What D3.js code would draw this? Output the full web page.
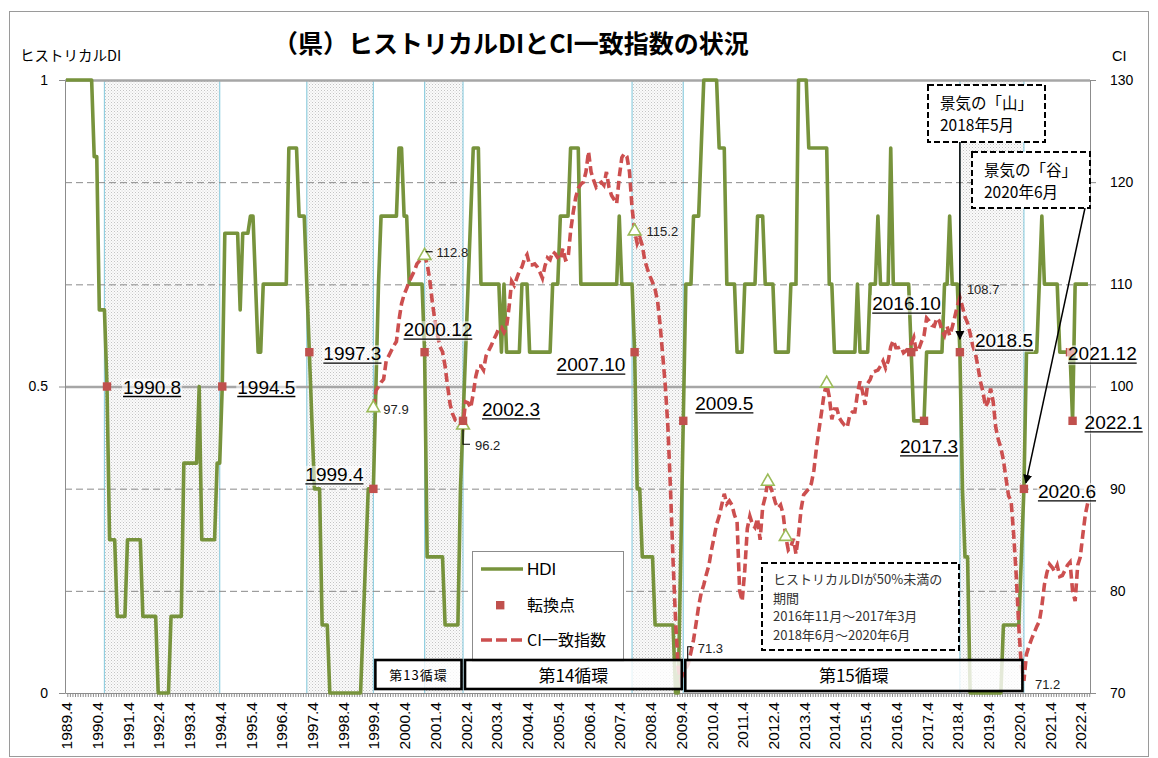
<!DOCTYPE html>
<html><head><meta charset="utf-8">
<script src="https://cdn.jsdelivr.net/npm/d3@7"></script>
<style>
body{margin:0;background:#fff}
svg{display:block}
text{font-family:"Liberation Sans",Arial,sans-serif}
.jp{font-family:"Noto Sans CJK JP","Noto Sans",sans-serif}
</style>
</head><body>
<svg id="c" width="1158" height="758"></svg>
<script>
// ---------------- DATA ----------------
const xTickLabels = ["1989.4","1990.4","1991.4","1992.4","1993.4","1994.4","1995.4","1996.4","1997.4","1998.4",
  "1999.4","2000.4","2001.4","2002.4","2003.4","2004.4","2005.4","2006.4","2007.4","2008.4","2009.4",
  "2010.4","2011.4","2012.4","2013.4","2014.4","2015.4","2016.4","2017.4","2018.4","2019.4","2020.4",
  "2021.4","2022.4"];
const leftTicks = [0, 0.5, 1];
const rightTicks = [70, 80, 90, 100, 110, 120, 130];

// Historical DI, monthly from 1989.4 (one row per fiscal year Apr-Mar)
const hdiStart = "1989.4";
const hdi = [
  1,1,1,1,1,1,1,1,1,1,1,0.875,
  0.875,0.625,0.625,0.625,0.5,0.25,0.25,0.25,0.125,0.125,0.125,0.125,
  0.25,0.25,0.25,0.25,0.25,0.25,0.125,0.125,0.125,0.125,0.125,0.125,
  0,0,0,0,0,0.125,0.125,0.125,0.125,0.125,0.375,0.375,
  0.375,0.375,0.375,0.375,0.5,0.25,0.25,0.25,0.25,0.25,0.25,0.375,
  0.375,0.5,0.75,0.75,0.75,0.75,0.75,0.75,0.625,0.75,0.75,0.75,
  0.778,0.778,0.667,0.556,0.556,0.667,0.667,0.667,0.667,0.667,0.667,0.667,
  0.667,0.667,0.667,0.889,0.889,0.889,0.889,0.778,0.778,0.778,0.667,0.556,
  0.444,0.333,0.333,0.333,0.111,0.111,0.111,0,0,0,0,0,
  0,0,0,0,0,0,0,0,0.111,0.222,0.333,0.333,
  0.333,0.5,0.667,0.778,0.778,0.778,0.778,0.778,0.778,0.778,0.889,0.889,
  0.778,0.778,0.667,0.667,0.667,0.667,0.667,0.667,0.556,0.222,0.222,0.222,
  0.222,0.222,0.222,0.222,0.111,0.111,0.111,0.111,0.111,0.111,0.333,0.444,
  0.556,0.667,0.778,0.889,0.889,0.889,0.667,0.667,0.667,0.667,0.667,0.667,
  0.667,0.667,0.556,0.667,0.556,0.556,0.556,0.556,0.556,0.556,0.667,0.667,
  0.667,0.556,0.556,0.556,0.556,0.556,0.556,0.556,0.556,0.556,0.667,0.667,
  0.667,0.778,0.778,0.778,0.778,0.889,0.889,0.889,0.889,0.667,0.667,0.667,
  0.667,0.667,0.667,0.667,0.667,0.667,0.667,0.667,0.667,0.667,0.667,0.667,
  0.778,0.667,0.667,0.667,0.667,0.667,0.556,0.333,0.333,0.222,0.222,0.222,
  0.222,0.222,0.111,0.111,0.111,0.111,0.111,0.111,0.111,0.111,0,0,
  0.222,0.444,0.667,0.667,0.667,0.778,0.778,0.778,0.889,1,1,1,
  1,1,1,0.889,0.889,0.889,0.667,0.667,0.667,0.667,0.556,0.556,
  0.556,0.667,0.667,0.667,0.667,0.667,0.778,0.778,0.778,0.667,0.667,0.667,
  0.667,0.556,0.556,0.556,0.556,0.556,0.556,0.667,0.667,0.667,1,1,
  1,1,0.889,0.889,0.889,0.889,0.889,0.889,0.889,0.889,0.667,0.667,
  0.556,0.556,0.556,0.556,0.556,0.556,0.556,0.556,0.556,0.667,0.556,0.556,
  0.556,0.556,0.667,0.667,0.667,0.778,0.667,0.667,0.667,0.667,0.889,0.667,
  0.667,0.667,0.667,0.667,0.667,0.667,0.556,0.444,0.444,0.444,0.444,0.444,
  0.556,0.556,0.556,0.556,0.556,0.556,0.556,0.667,0.667,0.778,0.667,0.667,
  0.667,0.556,0.333,0.222,0.222,0,0,0,0,0,0,0,
  0,0,0,0,0,0,0.111,0.111,0.111,0.111,0.111,0.111,
  0.111,0.222,0.333,0.556,0.556,0.556,0.556,0.556,0.667,0.778,0.667,0.667,
  0.667,0.667,0.667,0.667,0.556,0.556,0.556,0.556,0.556,0.444,0.667,0.667,
  0.667,0.667,0.667,0.667
];

// CI coincident index, monthly from 1999.4
const ciStart = "1999.4";
const ci = [
  97.9,99.6,100.0,100.4,100.7,102.5,103.0,103.5,104.0,104.4,106.5,108.1,
  109.0,109.6,110.3,110.8,111.3,112.0,112.3,112.6,112.8,112.0,110.5,108.3,
  106.5,105.1,103.9,103.4,102.0,100.0,98.2,97.3,96.7,96.6,96.7,96.2,
  98.5,98.4,97.9,99.3,101.0,102.0,102.0,101.6,103.0,103.5,104.0,104.6,
  105.1,105.7,105.8,105.3,105.8,107.8,110.3,109.9,110.6,111.3,111.7,112.5,
  112.9,111.9,111.9,112.0,111.7,111.2,110.6,111.8,112.6,112.4,113.2,113.0,
  112.6,112.4,113.5,112.4,112.5,115.2,117.0,118.5,119.4,119.8,120.0,121.0,
  123.0,121.0,120.2,119.5,119.8,120.0,119.7,121.0,119.5,118.7,118.3,117.9,
  120.5,122.4,122.8,122.5,121.0,117.5,115.2,114.0,114.6,113.8,112.3,111.5,
  110.8,110.2,109.5,108.3,105.9,103.0,100.0,96.0,90.0,83.0,77.0,72.5,
  71.3,72.0,72.4,72.9,74.0,75.2,76.8,78.5,79.8,80.6,81.6,82.5,
  84.0,85.2,86.5,87.3,88.4,89.5,88.5,88.8,88.4,87.4,86.8,80.0,
  79.0,82.0,86.1,87.3,86.5,86.2,87.1,85.0,88.2,89.2,90.7,90.2,
  89.5,88.6,88.1,88.4,87.5,85.3,84.0,84.3,85.1,83.6,85.5,88.0,
  89.4,89.7,90.0,90.5,91.8,94.0,95.8,97.5,99.3,100.3,99.0,96.8,
  97.8,97.8,96.9,96.5,96.2,96.0,97.2,97.5,97.5,99.3,100.5,99.5,
  98.2,100.3,100.7,101.4,101.5,101.6,102.0,102.5,101.8,102.5,103.9,104.5,
  103.8,103.8,103.9,103.3,103.5,103.8,104.2,104.8,103.4,103.7,104.4,105.0,
  106.7,106.4,106.0,105.9,106.7,106.4,105.5,105.0,105.9,105.0,105.8,106.8,
  107.9,108.7,107.8,106.8,106.2,105.2,104.0,103.3,102.0,100.5,99.5,98.0,
  98.5,99.8,98.5,96.0,94.8,94.0,92.8,91.0,89.3,88.8,85.5,81.5,
  76.5,72.5,71.2,73.8,74.6,75.3,75.9,76.5,77.0,78.5,80.6,81.8,
  82.6,82.3,81.9,82.5,81.4,81.5,82.0,82.5,82.8,80.0,79.0,82.5,
  83.3,85.5,87.5,88.7
];

// turning points of the historical DI
const turningPoints = ["1990.8","1994.5","1997.3","1999.4","2000.12","2002.3","2007.10","2009.5",
  "2016.10","2017.3","2018.5","2020.6","2021.12","2022.1"];
// shaded (downturn) periods
const shadeStart = ["1990.7","1997.2","2000.12","2007.9","2018.5"];
const shadeEnd   = ["1994.4","1999.4","2002.3","2009.5","2020.6"];
// CI triangle marks and labelled CI values
const ciMarks = ["1999.4","2000.12","2002.3","2007.10","2012.2","2012.9","2014.1"];
const ciLabelMonths = ["1999.4","2000.12","2002.3","2007.10","2009.4","2018.5","2020.6"];
// business cycles (trough to trough)
const cycleNames = ["第13循環","第14循環","第15循環"];
const cycleStart = ["1999.4","2002.3","2009.5"];
const cycleEnd   = ["2002.3","2009.5","2020.6"];

// ---------------- LAYOUT ----------------
const tpLabelOffsets = [[16,7],[15,7],[14,8],[-68,-8],[-21,-16],[19,-5],[-78,19],[12,-11],
  [-39,-42],[-24,32],[15,-5],[14,9],[-2,8],[12,8]];
const ciLabelOffsets = [[10,6],[12,1],[12,25],[12,5],[17,-27],[7,-4],[11,8]];
const ciLeaders = {1:[[1,-4],[8,-4]], 2:[[0,4],[0,19],[7,19]], 4:[[7,-18],[7,-33],[11,-33]]};

const svg = d3.select("#c");
const L=65,R=1090,T=80,B=693;
const mIdx = s => { const [a,b]=s.split('.').map(Number); return (a-1989)*12 + (b-4); };
const h0 = mIdx(hdiStart), c0 = mIdx(ciStart);
const x = d3.scaleLinear().domain([-0.4, 399.8]).range([L,R]);
const yL = d3.scaleLinear().domain([0,1]).range([B,T]);
const yR = d3.scaleLinear().domain([70,130]).range([B,T]);

const hdiData = hdi.map((v,k)=>({i:h0+k, v}));
const ciData = ci.map((v,k)=>({i:c0+k, v}));
const hdiAt = i => hdi[i-h0];
const ciAt = i => ci[i-c0];

const defs = svg.append("defs");
const pat = defs.append("pattern").attr("id","dots").attr("width",3).attr("height",3).attr("patternUnits","userSpaceOnUse");
pat.append("rect").attr("width",3).attr("height",3).attr("fill","#fbfbfb");
pat.append("rect").attr("x",0).attr("y",0).attr("width",1).attr("height",1).attr("fill","#c4c4c4");
pat.append("rect").attr("x",1.5).attr("y",1.5).attr("width",1).attr("height",1).attr("fill","#d6d6d6");
defs.append("marker").attr("id","arr").attr("viewBox","0 0 10 10").attr("refX",9).attr("refY",5)
  .attr("markerWidth",6).attr("markerHeight",7).attr("orient","auto")
  .append("path").attr("d","M0,0L10,5L0,10z").attr("fill","#000");

// outer frame
svg.append("rect").attr("x",9.5).attr("y",11.5).attr("width",1139).attr("height",745).attr("fill","#fff").attr("stroke","#9a9a9a");

// title & axis titles
svg.append("text").attr("class","jp").attr("x",511).attr("y",53).attr("text-anchor","middle")
  .attr("font-size",25).attr("font-weight","bold").text("（県）ヒストリカルDIとCI一致指数の状況");
svg.append("text").attr("class","jp").attr("x",20).attr("y",61).attr("font-size",14.5).text("ヒストリカルDI");
svg.append("text").attr("x",1112).attr("y",61).attr("font-size",14.5).text("CI");

// shaded periods
const shades = shadeStart.map((s,k)=>({a:mIdx(s), b:mIdx(shadeEnd[k])}));
svg.append("g").selectAll("rect").data(shades).join("rect")
  .attr("x",d=>x(d.a)).attr("y",T).attr("width",d=>x(d.b)-x(d.a)).attr("height",B-T)
  .attr("fill","url(#dots)");
svg.append("g").selectAll("line").data(shades.flatMap(d=>[d.a,d.b])).join("line")
  .attr("x1",d=>x(d)).attr("x2",d=>x(d)).attr("y1",T).attr("y2",B)
  .attr("stroke","#92cfe0").attr("stroke-width",1.2);

// gridlines
const gR = svg.append("g").attr("transform",`translate(${L},0)`)
  .call(d3.axisRight(yR).tickValues([80,90,110,120]).tickSize(R-L).tickFormat(""));
gR.select(".domain").remove();
gR.selectAll("line").attr("stroke","#8a8a8a").attr("stroke-dasharray","7,4").attr("stroke-width",1);
const gL = svg.append("g").attr("transform",`translate(${L},0)`)
  .call(d3.axisRight(yL).tickValues([0.5,1]).tickSize(R-L).tickFormat(""));
gL.select(".domain").remove();
gL.selectAll("line").attr("stroke","#a6a6a6").attr("stroke-width",2.5);

// axes
const axL = svg.append("g").attr("transform",`translate(${L},0)`)
  .call(d3.axisLeft(yL).tickValues(leftTicks).tickSize(6).tickSizeOuter(0).tickPadding(11).tickFormat(d3.format("")));
const axR = svg.append("g").attr("transform",`translate(${R},0)`)
  .call(d3.axisRight(yR).tickValues(rightTicks).tickSize(6).tickSizeOuter(0).tickPadding(14));
[axL,axR].forEach(a=>{a.selectAll("path,line").attr("stroke","#8c8c8c");
  a.selectAll("text").attr("font-size",14).attr("fill","#000").attr("font-family","Liberation Sans, Arial, sans-serif");});
const minor = d3.range(0,401).map(v=>v-0.5).filter(v=>v>=-0.4&&v<=399.8);
const axB = svg.append("g").attr("transform",`translate(0,${B})`)
  .call(d3.axisBottom(x).tickValues(minor).tickSize(4).tickSizeOuter(0).tickFormat(""));
axB.selectAll("path,line").attr("stroke","#8c8c8c");
const axB2 = svg.append("g").attr("transform",`translate(0,${B})`)
  .call(d3.axisBottom(x).tickValues(xTickLabels.map(mIdx)).tickSize(0).tickFormat((d,k)=>xTickLabels[k]));
axB2.select(".domain").remove();
axB2.selectAll("text").attr("transform","rotate(-90)").attr("text-anchor","end")
  .attr("x",-9).attr("y",0).attr("dy","0.36em").attr("font-size",15.5).attr("fill","#000")
  .attr("font-family","Liberation Sans, Arial, sans-serif");

// HDI line
svg.append("path").datum(hdiData)
  .attr("d", d3.line().x(d=>x(d.i)).y(d=>yL(d.v)))
  .attr("fill","none").attr("stroke","#77933c").attr("stroke-width",3.6).attr("stroke-linejoin","round");
// CI line
svg.append("path").datum(ciData)
  .attr("d", d3.line().x(d=>x(d.i)).y(d=>yR(d.v)))
  .attr("fill","none").attr("stroke","#cc4f4f").attr("stroke-width",3.6).attr("stroke-dasharray","9,4.5");

// CI triangles
svg.append("g").selectAll("path").data(ciMarks.map(mIdx)).join("path")
  .attr("transform",d=>`translate(${x(d)},${yR(ciAt(d))})`)
  .attr("d", d3.symbol(d3.symbolTriangle, 70))
  .attr("fill","#fff").attr("stroke","#9bbb59").attr("stroke-width",1.6);

// CI value labels
ciLabelMonths.forEach((m,k)=>{
  const i=mIdx(m), px=x(i), py=yR(ciAt(i));
  if (ciLeaders[k]) {
    svg.append("path").attr("d", d3.line()(ciLeaders[k].map(p=>[px+p[0],py+p[1]])))
      .attr("fill","none").attr("stroke","#000").attr("stroke-width",1.1);
  }
  svg.append("text").attr("x",px+ciLabelOffsets[k][0]).attr("y",py+ciLabelOffsets[k][1])
    .attr("font-size",13).attr("fill","#222").text(d3.format(".1f")(ciAt(i)));
});

// turning point markers
svg.append("g").selectAll("rect").data(turningPoints.map(mIdx)).join("rect")
  .attr("x",d=>x(d)-4.2).attr("y",d=>yL(hdiAt(d))-4.2).attr("width",8.4).attr("height",8.4)
  .attr("fill","#c0504d");

// turning point labels (underlined)
turningPoints.forEach((m,k)=>{
  const i=mIdx(m), px=x(i)+tpLabelOffsets[k][0], py=yL(hdiAt(i))+tpLabelOffsets[k][1];
  const g = svg.append("g");
  const bg = g.append("rect");
  const t = g.append("text").attr("x",px).attr("y",py).attr("font-size",19).attr("fill","#000").text(m);
  const w = t.node().getComputedTextLength();
  bg.attr("x",px-1).attr("y",py-15).attr("width",w+2).attr("height",20).attr("fill","#fff").attr("opacity",0.55);
  g.append("line").attr("x1",px).attr("x2",px+w).attr("y1",py+3).attr("y2",py+3).attr("stroke","#000").attr("stroke-width",1.3);
});

// legend
const lg = svg.append("g");
lg.append("rect").attr("x",472.5).attr("y",551.5).attr("width",151).attr("height",110).attr("fill","#fff").attr("stroke","#8c8c8c");
lg.append("line").attr("x1",481).attr("x2",523).attr("y1",569).attr("y2",569).attr("stroke","#77933c").attr("stroke-width",3.6);
lg.append("rect").attr("x",496).attr("y",601).attr("width",8.4).attr("height",8.4).attr("fill","#c0504d");
lg.append("line").attr("x1",481).attr("x2",523).attr("y1",640).attr("y2",640).attr("stroke","#cc4f4f").attr("stroke-width",3.6).attr("stroke-dasharray","11,4");
lg.append("text").attr("x",527).attr("y",575).attr("font-size",17).text("HDI");
lg.append("text").attr("class","jp").attr("x",527).attr("y",611).attr("font-size",16).text("転換点");
lg.append("text").attr("class","jp").attr("x",527).attr("y",646).attr("font-size",16).text("CI一致指数");

// cycle boxes
cycleNames.forEach((n,k)=>{
  const a=x(mIdx(cycleStart[k]))+2, b=x(mIdx(cycleEnd[k]))-1.5;
  const bottom = k===2 ? 691 : 689;
  svg.append("rect").attr("x",a).attr("y",660).attr("width",b-a).attr("height",bottom-660)
    .attr("fill","#fff").attr("fill-opacity",0.8).attr("stroke","#000").attr("stroke-width",2.6);
  svg.append("text").attr("class","jp").attr("x",(a+b)/2).attr("y",k===0?680:682).attr("text-anchor","middle")
    .attr("font-size",k===0?13:17).attr("letter-spacing",k===0?1:0).text(n);
});

// annotation boxes
function dashedBox(x0,y0,w,h,lines,fs,lh,tx,ty,color){
  svg.append("rect").attr("x",x0).attr("y",y0).attr("width",w).attr("height",h)
    .attr("fill","#fff").attr("stroke","#000").attr("stroke-width",2).attr("stroke-dasharray","6,3");
  lines.forEach((s,k)=>svg.append("text").attr("class","jp").attr("x",tx).attr("y",ty+k*lh)
    .attr("font-size",fs).attr("fill",color).text(s));
}
// arrows
const pk = mIdx("2018.5"), tr = mIdx("2020.6");
svg.append("line").attr("x1",x(pk)).attr("y1",142).attr("x2",x(pk)).attr("y2",yL(hdiAt(pk))-13)
  .attr("stroke","#000").attr("stroke-width",1.5).attr("marker-end","url(#arr)");
svg.append("line").attr("x1",1085).attr("y1",208).attr("x2",x(tr)+2).attr("y2",yL(hdiAt(tr))-6)
  .attr("stroke","#000").attr("stroke-width",1.5).attr("marker-end","url(#arr)");
dashedBox(928,85,117,57,["景気の「山」","2018年5月"],15.5,22,940,109,"#000");
dashedBox(972,152,118,56,["景気の「谷」","2020年6月"],15.5,22,984,176,"#000");
dashedBox(762,563,197,87,["ヒストリカルDIが50%未満の","期間","2016年11月～2017年3月","2018年6月～2020年6月"],13,18.5,773,584,"#333");
</script>
</body></html>
